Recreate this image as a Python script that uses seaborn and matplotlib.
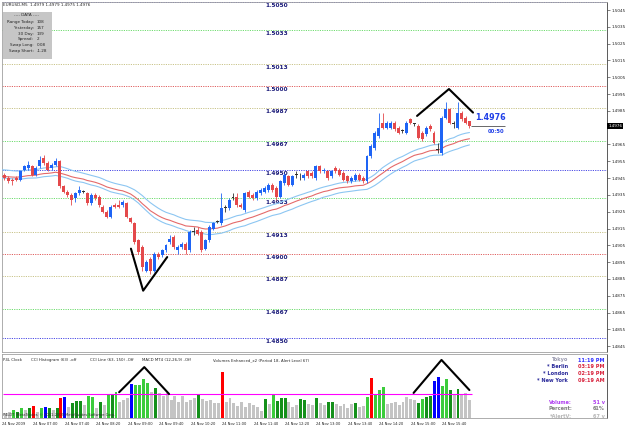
import numpy as np
import pandas as pd
import matplotlib
matplotlib.use("Agg")
import matplotlib.pyplot as plt
import matplotlib.transforms as mtransforms
from matplotlib.patches import Rectangle
import seaborn as sns

sns.set_style("white")
plt.rcParams['font.family'] = ['DejaVu Sans']

W, H = 625, 429

# --- EURUSD M5, 24 Nov 2009, 06:20 .. 16:15 (one row of 10 bars per line) ---
opens = [1.4948, 1.4947, 1.4945, 1.4944, 1.4945, 1.4944, 1.4950, 1.4951, 1.4952, 1.4947,
         1.4952, 1.4957, 1.4954, 1.4951, 1.4953, 1.4955, 1.4940, 1.4937, 1.4935, 1.4933,
         1.4936, 1.4937, 1.4936, 1.4930, 1.4935, 1.4934, 1.4928, 1.4925, 1.4922, 1.4929,
         1.4929, 1.4929, 1.4930, 1.4921, 1.4918, 1.4908, 1.4904, 1.4890, 1.4897, 1.4890,
         1.4900, 1.4899, 1.4902, 1.4907, 1.4910, 1.4902, 1.4904, 1.4906, 1.4902, 1.4913,
         1.4914, 1.4913, 1.4903, 1.4908, 1.4915, 1.4919, 1.4918, 1.4927, 1.4927, 1.4933,
         1.4934, 1.4929, 1.4926, 1.4937, 1.4935, 1.4933, 1.4936, 1.4937, 1.4938, 1.4941,
         1.4939, 1.4934, 1.4942, 1.4946, 1.4941, 1.4947, 1.4946, 1.4945, 1.4949, 1.4948,
         1.4945, 1.4952, 1.4949, 1.4949, 1.4946, 1.4951, 1.4950, 1.4948, 1.4946, 1.4943,
         1.4944, 1.4947, 1.4945, 1.4943, 1.4958, 1.4963, 1.4970, 1.4978, 1.4975, 1.4975,
         1.4978, 1.4975, 1.4973, 1.4972, 1.4980, 1.4977, 1.4976, 1.4972, 1.4971, 1.4976,
         1.4972, 1.4962, 1.4960, 1.4981, 1.4986, 1.4977, 1.4975, 1.4984, 1.4981, 1.4979]
highs = [1.4950, 1.4948, 1.4946, 1.4945, 1.4946, 1.4950, 1.4953, 1.4955, 1.4953, 1.4952,
         1.4958, 1.4959, 1.4955, 1.4954, 1.4957, 1.4956, 1.4941, 1.4938, 1.4936, 1.4937,
         1.4940, 1.4938, 1.4937, 1.4936, 1.4936, 1.4935, 1.4929, 1.4926, 1.4929, 1.4930,
         1.4932, 1.4932, 1.4931, 1.4922, 1.4919, 1.4909, 1.4905, 1.4896, 1.4898, 1.4901,
         1.4901, 1.4903, 1.4906, 1.4911, 1.4911, 1.4905, 1.4907, 1.4907, 1.4914, 1.4916,
         1.4916, 1.4914, 1.4909, 1.4917, 1.4919, 1.4920, 1.4936, 1.4929, 1.4933, 1.4936,
         1.4936, 1.4930, 1.4937, 1.4938, 1.4936, 1.4938, 1.4939, 1.4940, 1.4942, 1.4942,
         1.4940, 1.4944, 1.4948, 1.4947, 1.4947, 1.4949, 1.4948, 1.4948, 1.4950, 1.4949,
         1.4953, 1.4953, 1.4951, 1.4950, 1.4950, 1.4952, 1.4951, 1.4949, 1.4947, 1.4946,
         1.4948, 1.4948, 1.4946, 1.4959, 1.4965, 1.4973, 1.4984, 1.4984, 1.4979, 1.4979,
         1.4979, 1.4976, 1.4974, 1.4979, 1.4981, 1.4978, 1.4977, 1.4973, 1.4976, 1.4977,
         1.4973, 1.4966, 1.4982, 1.4990, 1.4987, 1.4979, 1.4990, 1.4985, 1.4982, 1.4979]
lows = [1.4945, 1.4944, 1.4942, 1.4941, 1.4943, 1.4943, 1.4949, 1.4950, 1.4946, 1.4946,
        1.4951, 1.4953, 1.4949, 1.4950, 1.4952, 1.4939, 1.4936, 1.4934, 1.4929, 1.4931,
        1.4935, 1.4936, 1.4929, 1.4929, 1.4932, 1.4928, 1.4924, 1.4921, 1.4921, 1.4927,
        1.4927, 1.4928, 1.4921, 1.4918, 1.4906, 1.4900, 1.4890, 1.4889, 1.4888, 1.4889,
        1.4897, 1.4898, 1.4901, 1.4906, 1.4903, 1.4900, 1.4903, 1.4900, 1.4901, 1.4911,
        1.4911, 1.4901, 1.4902, 1.4907, 1.4914, 1.4918, 1.4917, 1.4925, 1.4926, 1.4932,
        1.4928, 1.4927, 1.4925, 1.4933, 1.4932, 1.4932, 1.4935, 1.4936, 1.4937, 1.4937,
        1.4932, 1.4933, 1.4941, 1.4940, 1.4940, 1.4945, 1.4944, 1.4944, 1.4945, 1.4945,
        1.4944, 1.4948, 1.4948, 1.4944, 1.4945, 1.4948, 1.4946, 1.4943, 1.4942, 1.4942,
        1.4943, 1.4943, 1.4942, 1.4942, 1.4957, 1.4962, 1.4969, 1.4974, 1.4974, 1.4974,
        1.4973, 1.4971, 1.4972, 1.4971, 1.4977, 1.4976, 1.4968, 1.4967, 1.4970, 1.4973,
        1.4965, 1.4960, 1.4959, 1.4980, 1.4977, 1.4975, 1.4974, 1.4979, 1.4977, 1.4975]
closes = [1.4946, 1.4945, 1.4943, 1.4943, 1.4944, 1.4949, 1.4952, 1.4953, 1.4947, 1.4951,
          1.4956, 1.4954, 1.4950, 1.4953, 1.4955, 1.4940, 1.4937, 1.4935, 1.4932, 1.4936,
          1.4938, 1.4937, 1.4930, 1.4935, 1.4933, 1.4929, 1.4925, 1.4922, 1.4928, 1.4928,
          1.4928, 1.4931, 1.4922, 1.4919, 1.4907, 1.4901, 1.4892, 1.4895, 1.4890, 1.4900,
          1.4898, 1.4902, 1.4905, 1.4909, 1.4904, 1.4904, 1.4906, 1.4902, 1.4913, 1.4913,
          1.4912, 1.4902, 1.4908, 1.4916, 1.4918, 1.4919, 1.4927, 1.4927, 1.4932, 1.4933,
          1.4929, 1.4928, 1.4936, 1.4934, 1.4933, 1.4937, 1.4938, 1.4939, 1.4941, 1.4938,
          1.4934, 1.4943, 1.4947, 1.4941, 1.4946, 1.4947, 1.4946, 1.4947, 1.4946, 1.4946,
          1.4952, 1.4949, 1.4950, 1.4945, 1.4949, 1.4949, 1.4947, 1.4944, 1.4943, 1.4945,
          1.4947, 1.4944, 1.4943, 1.4958, 1.4964, 1.4972, 1.4975, 1.4975, 1.4978, 1.4978,
          1.4974, 1.4972, 1.4973, 1.4978, 1.4978, 1.4977, 1.4969, 1.4968, 1.4975, 1.4974,
          1.4966, 1.4962, 1.4981, 1.4986, 1.4978, 1.4977, 1.4984, 1.4980, 1.4978, 1.4976]

# Volumes Enhanced_x2 (ticks) and colour code per bar
volumes = [12, 13, 18, 22, 18, 27, 22, 27, 33, 18,
           27, 32, 27, 22, 27, 55, 58, 32, 41, 48,
           47, 36, 60, 58, 27, 46, 36, 64, 64, 73,
           46, 50, 55, 95, 92, 92, 108, 97, 73, 85,
           69, 60, 69, 50, 60, 46, 60, 46, 50, 55,
           67, 52, 47, 50, 41, 43, 129, 46, 55, 41,
           34, 46, 32, 41, 36, 32, 20, 53, 38, 66,
           48, 57, 55, 46, 32, 36, 53, 50, 38, 36,
           55, 41, 36, 46, 46, 38, 34, 38, 29, 38,
           41, 32, 34, 59, 113, 64, 78, 86, 38, 41,
           46, 36, 46, 59, 53, 50, 41, 53, 59, 62,
           103, 115, 90, 108, 78, 64, 81, 64, 69, 51]
vol_codes = list("xxxlglxgrx" "lbgxgrbxgg" "gxllxgxlgl" "xxxbllllxg" "xxxxxxxxxx"
                 "gxxxxxrxxx" "xxxxxxxgxl" "gggxxxggxx" "gxxggxxxxx" "gxxlrlllxx"
                 "xxxxxxglgg" "bbllgxgxxx")
alert_level = 67

time_ticks = [0, 8, 16, 24, 32, 40, 48, 56, 64, 72, 80, 88, 96, 104, 112]
time_labels = ["24 Nov 2009", "24 Nov 07:00", "24 Nov 07:40", "24 Nov 08:20", "24 Nov 09:00",
               "24 Nov 09:40", "24 Nov 10:20", "24 Nov 11:00", "24 Nov 11:40", "24 Nov 12:20",
               "24 Nov 13:00", "24 Nov 13:40", "24 Nov 14:20", "24 Nov 15:00", "24 Nov 15:40"]

levels = [1.5050, 1.5033, 1.5013, 1.5000, 1.4987, 1.4967, 1.4950,
          1.4933, 1.4913, 1.4900, 1.4887, 1.4867, 1.4850]
level_kinds = ["50", "33", "13", "00", "13", "33", "50", "33", "13", "00", "13", "33", "50"]

price_ticks = [1.5045, 1.5035, 1.5025, 1.5015, 1.5005, 1.4995, 1.4985, 1.4965, 1.4955,
               1.4945, 1.4935, 1.4925, 1.4915, 1.4905, 1.4895, 1.4885, 1.4875, 1.4865,
               1.4855, 1.4845]

# hand drawn trend marks (bar index, value)
v_main_x = [33.1, 36.2, 42.3]
v_main_y = [1.4903, 1.4878, 1.4898]
peak_main_x = [105.7, 113.8, 119.9]
peak_main_y = [1.4982, 1.4998, 1.4984]
peak_vol1_x = [29.8, 36.2, 42.5]
peak_vol1_y = [72, 142, 67]
peak_vol2_x = [104.7, 111.8, 118.9]
peak_vol2_y = [70, 162, 78]

data_labels = ["Range Today:", "Yesterday:", "30 Day:", "Spread:", "Swap Long:", "Swap Short:"]
data_values = ["108", "157", "139", "2", "0.08", "-1.28"]

clock_cities = ["Tokyo", "* Berlin", "* London", "* New York"]
clock_times = ["11:19 PM", "03:19 PM", "02:19 PM", "09:19 AM"]

# --- derived series ---
df = pd.DataFrame({"open": opens, "high": highs, "low": lows, "close": closes})
df["idx"] = np.arange(len(df))
ema_mid = df["close"].ewm(span=34, adjust=False).mean()
ema_hi = df["high"].ewm(span=34, adjust=False).mean()
ema_lo = df["low"].ewm(span=34, adjust=False).mean()

BULL, BEAR, DOJI = "#1E64F5", "#E4494B", "#303030"
cand_col = np.where(df["close"] > df["open"], BULL, np.where(df["close"] < df["open"], BEAR, DOJI))
level_colors = {"50": "#4a4ae6", "33": "#6fdc6f", "13": "#c9c48a", "00": "#e06060"}
vol_palette = {"x": "#c4c4c4", "g": "#14901a", "l": "#3ccc3c", "b": "#0000ff", "r": "#ff0000"}


def px(x, y):
    return x / W, 1 - y / H


fig = plt.figure(figsize=(W / 100, H / 100), dpi=100, facecolor="white")
ax = fig.add_axes([2 / W, 1 - 352 / H, 605 / W, 350 / H])
axv = fig.add_axes([2 / W, 1 - 418 / H, 605 / W, 64 / H])

x0, x1 = 0.38, 153.9
ax.set_xlim(x0, x1)
ax.set_ylim(1.48415, 1.50498)

# level lines and their labels
for lv, kind in zip(levels, level_kinds):
    ax.axhline(lv, color=level_colors[kind], linestyle=(0, (1.2, 1.2)), linewidth=0.7, zorder=1)
    ax.annotate(f"{lv:.4f}", (67.1, lv), xytext=(0, -0.9), textcoords="offset points",
                ha="left", va="top", fontsize=4.2, fontweight="bold", color="#1c1c7a", zorder=2)

# moving average channel
sns.lineplot(x=df["idx"], y=ema_hi, ax=ax, color="#8cc6f2", linewidth=0.8, legend=False, zorder=3)
sns.lineplot(x=df["idx"], y=ema_lo, ax=ax, color="#8cc6f2", linewidth=0.8, legend=False, zorder=3)
sns.lineplot(x=df["idx"], y=ema_mid, ax=ax, color="#e46a6a", linewidth=0.8, legend=False, zorder=3)

# candles
body_lo = df[["open", "close"]].min(axis=1)
body_h = (df["close"] - df["open"]).abs().clip(lower=0.00005)
ax.vlines(df["idx"], df["low"], df["high"], colors=cand_col, linewidth=0.6, zorder=4)
ax.bar(df["idx"], body_h, bottom=body_lo, width=0.75, color=cand_col, linewidth=0, zorder=5)

# hand drawn marks
ax.plot(v_main_x, v_main_y, color="black", linewidth=1.5, zorder=6, solid_capstyle="round")
ax.plot(peak_main_x, peak_main_y, color="black", linewidth=1.5, zorder=6, solid_capstyle="round")

# current price marker
last_i, last_c = df["idx"].iloc[-1], df["close"].iloc[-1]
ax.hlines(last_c, last_i + 0.4, last_i + 9, color="#505050", linewidth=0.6, zorder=6)
ax.annotate(f"{last_c:.4f}", (last_i, last_c), xytext=(4, 5.8), textcoords="offset points",
            ha="left", va="center", fontsize=5.8, fontweight="bold", color="#2040e8")
ax.annotate("00:50", (last_i, last_c), xytext=(13.4, -3.6), textcoords="offset points",
            ha="left", va="center", fontsize=3.8, fontweight="bold", color="#2040e8")

# right price scale
ax.yaxis.tick_right()
ax.set_yticks(price_ticks)
ax.set_yticklabels([f"{t:.4f}" for t in price_ticks])
ax.tick_params(axis="y", labelsize=3, length=2, width=0.4, pad=1, colors="#202020")
ax.set_xticks([])
trans = mtransforms.blended_transform_factory(ax.transAxes, ax.transData)
ax.text(1.002, last_c, f"{last_c:.4f}", transform=trans, ha="left", va="center", fontsize=3,
        color="white", bbox=dict(boxstyle="square,pad=0.2", fc="black", ec="none"))

for sp in ax.spines.values():
    sp.set_color("#a0a0a0")
    sp.set_linewidth(0.6)
ax.spines["right"].set_color("#404040")
ax.set_ylabel("")
ax.set_xlabel("")

# --- volume panel ---
axv.set_xlim(x0, x1)
axv.set_ylim(0, 178.6)
axv.bar(df["idx"], volumes, width=0.75, color=[vol_palette[c] for c in vol_codes], linewidth=0, zorder=2)
axv.hlines(alert_level, x0, last_i + 0.5, color="#ff00ff", linewidth=0.8, zorder=3)
axv.plot(peak_vol1_x, peak_vol1_y, color="black", linewidth=1.5, zorder=4, solid_capstyle="round")
axv.plot(peak_vol2_x, peak_vol2_y, color="black", linewidth=1.5, zorder=4, solid_capstyle="round")
axv.set_xticks(time_ticks)
axv.set_xticklabels(time_labels, ha="left")
axv.tick_params(axis="x", labelsize=2.6, length=2, width=0.4, pad=0.6, colors="#202020")
axv.set_yticks([])
for sp in axv.spines.values():
    sp.set_color("#a0a0a0")
    sp.set_linewidth(0.6)
axv.spines["right"].set_color("#404040")

# --- texts outside the data ---
fig.text(*px(3, 5), "EURUSD,M5  1.4979 1.4979 1.4975 1.4976", fontsize=3, ha="left", va="center")
fig.add_artist(Rectangle(px(3, 59), 49 / W, 47 / H, transform=fig.transFigure,
                         fc="#c6c6c6", ec="none", zorder=10))
fig.text(*px(27, 15), "---- DATA ----", fontsize=3, ha="center", va="center", zorder=11)
for k, (lab, val) in enumerate(zip(data_labels, data_values)):
    yy = 22 + k * 5.8
    fig.text(*px(34, yy), lab, fontsize=3, ha="right", va="center", zorder=11)
    fig.text(*px(37, yy), val, fontsize=3, ha="left", va="center", zorder=11)

header = [(3, "P4L Clock"), (31, "CCI Histogram (63) -off"), (90, "CCI Line (63, 150) -Off"),
          (142, "MACD MT4 (12,26,9) -Off"), (213, "Volumes Enhanced_x2 (Period 18, Alert Level 67)")]
for hx, txt in header:
    fig.text(*px(hx, 360), txt, fontsize=2.8, ha="left", va="center")
fig.text(*px(3, 415), "P4LDT  MetaTrader, \u00a9 2001-2009 MetaQuotes Software Corp.",
         fontsize=2.6, ha="left", va="center", color="#303030")

city_colors = ["#9a9ab0", "#2a2a9a", "#2a2a9a", "#2a2a9a"]
time_colors = ["#2f2fff", "#d8203a", "#d8203a", "#d8203a"]
for k, (city, tm) in enumerate(zip(clock_cities, clock_times)):
    yy = 360 + k * 6.7
    fig.text(*px(568, yy), city, fontsize=3.6, fontweight="bold", ha="right", va="center",
             color=city_colors[k])
    fig.text(*px(605, yy), tm, fontsize=3.6, fontweight="bold", ha="right", va="center",
             color=time_colors[k])

stats = [("Volume:", f"{volumes[-1]} v", "#b040f0"), ("Percent:", "61%", "#808080"),
         ("*AlertV:", f"{alert_level} v", "#b8b8b8")]
for k, (lab, val, col) in enumerate(stats):
    yy = 402 + k * 7
    fig.text(*px(572, yy), lab, fontsize=3.6, fontweight="bold", ha="right", va="center", color=col)
    fig.text(*px(605, yy), val, fontsize=3.6, fontweight="bold", ha="right", va="center", color=col)

fig.savefig("out.png", dpi=100, facecolor="white")
